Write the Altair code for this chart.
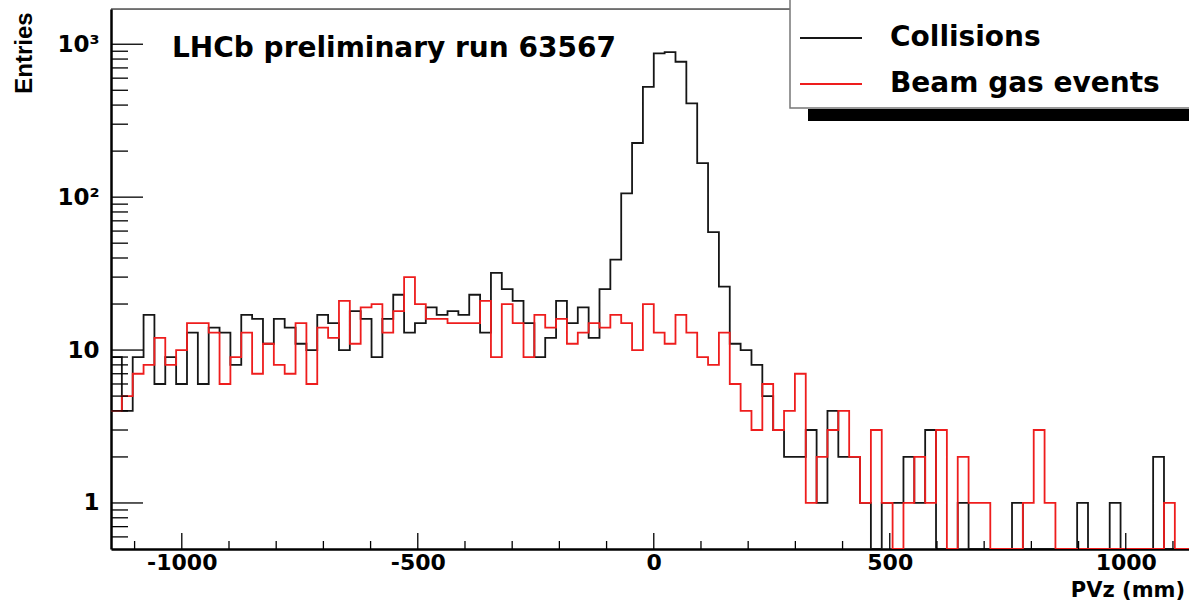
import altair as alt
import pandas as pd

# ---- histogram definition (100 bins of 23 mm from -1150 mm) ----
X_MIN = -1150
BIN_W = 23
X_VIEW_MAX = 1134
Y_MIN, Y_MAX = 0.5, 1700

collisions = [9, 4, 9, 17, 6, 9, 6, 13, 6, 14, 13, 8, 17, 16, 11, 16,
              14, 11, 10, 17, 15, 10, 18, 16, 9, 16, 23, 13, 15, 19, 17, 18,
              17, 23, 13, 32, 25, 21, 15, 9, 12, 21, 15, 19, 12, 25, 39, 106,
              226, 527, 872, 888, 768, 410, 167, 59, 26, 11, 10, 8, 5, 3, 2, 2,
              3, 1, 4, 2, 2, 1, 0, 1, 1, 2, 1, 3, 0, 0, 1, 0, 0, 0, 0, 1,
              0, 0, 0, 0, 0, 1, 0, 0, 1, 0, 0, 0, 2, 0, 0, 0]

beam_gas = [4, 5, 7, 8, 12, 8, 10, 15, 15, 13, 6, 9, 13, 7, 11, 8,
            7, 15, 6, 14, 12, 21, 11, 19, 20, 13, 18, 30, 20, 16, 16, 15,
            15, 15, 21, 9, 20, 15, 9, 17, 14, 16, 11, 13, 15, 14, 17, 15,
            10, 20, 13, 11, 17, 13, 9, 8, 13, 6, 4, 3, 6, 3, 4, 7,
            1, 2, 3, 4, 2, 1, 3, 1, 0, 1, 2, 1, 3, 0, 2, 1, 1, 0, 0, 0,
            1, 3, 1, 0, 0, 0, 0, 0, 0, 0, 0, 0, 0, 1, 0, 0]

series_names = ["Collisions", "Beam gas events"]
series_colors = ["#161616", "#ee1d1d"]

x_major = [-1000, -500, 0, 500, 1000]
x_minor = [-1100, -900, -800, -700, -600, -400, -300, -200, -100,
           100, 200, 300, 400, 600, 700, 800, 900, 1100]
y_major = [1, 10, 100, 1000]
y_minor = [0.6, 0.7, 0.8, 0.9, 2, 3, 4, 5, 6, 7, 8, 9,
           20, 30, 40, 50, 60, 70, 80, 90, 200, 300, 400, 500, 600, 700, 800, 900]

title_text = "LHCb preliminary run 63567"
x_title = "PVz (mm)"
y_title = "Entries"


def steps(counts, name):
    rows = []
    n = len(counts)
    for k in range(n + 1):
        c = counts[min(k, n - 1)]
        rows.append({"edge": X_MIN + BIN_W * k, "count": c,
                     "plot": max(c, Y_MIN), "series": name})
    return pd.DataFrame(rows)


df_c = steps(collisions, series_names[0])
df_b = steps(beam_gas, series_names[1])

W, H = 1078, 540
FONT = "DejaVu Sans"

xs = alt.Scale(domain=[X_MIN, X_VIEW_MAX], nice=False, zero=False)
ys = alt.Scale(type="log", domain=[Y_MIN, Y_MAX], nice=False)

x_axis = alt.Axis(values=x_major, labelExpr="'' + datum.value", ticks=False, grid=False,
                  labelFont=FONT, labelFontSize=22, labelFontWeight="bold", labelColor="black",
                  labelPadding=3, labelFlush=False, labelOverlap=False,
                  domainColor="black", domainWidth=2.5, title=None)
y_axis = alt.Axis(values=y_major,
                  labelExpr="datum.value == 1000 ? '10³' : datum.value == 100 ? '10²' : datum.value == 10 ? '10' : '1'",
                  ticks=False, grid=False, labelFont=FONT, labelFontSize=23, labelFontWeight="bold",
                  labelColor="black", labelPadding=12, labelFlush=False, labelOverlap=False,
                  domainColor="black", domainWidth=2.5, title=None)

black = alt.Chart(df_c).mark_line(interpolate="step-after", clip=True,
                                  color=series_colors[0], strokeWidth=1.8).encode(
    x=alt.X("edge:Q", scale=xs, axis=x_axis),
    y=alt.Y("plot:Q", scale=ys, axis=y_axis),
)
red = alt.Chart(df_b).mark_line(interpolate="step-after", clip=True,
                                color=series_colors[1], strokeWidth=1.8).encode(
    x=alt.X("edge:Q", scale=xs),
    y=alt.Y("plot:Q", scale=ys),
)

yt_major = alt.Chart(pd.DataFrame({"v": y_major})).mark_rule(color="black", strokeWidth=1.3).encode(
    y=alt.Y("v:Q", scale=ys), x=alt.value(0), x2=alt.value(32))
yt_minor = alt.Chart(pd.DataFrame({"v": y_minor})).mark_rule(color="black", strokeWidth=1.3).encode(
    y=alt.Y("v:Q", scale=ys), x=alt.value(0), x2=alt.value(17))
xt_major = alt.Chart(pd.DataFrame({"u": x_major})).mark_rule(color="black", strokeWidth=1.3).encode(
    x=alt.X("u:Q", scale=xs), y=alt.value(H), y2=alt.value(H - 16))
xt_minor = alt.Chart(pd.DataFrame({"u": x_minor})).mark_rule(color="black", strokeWidth=1.3).encode(
    x=alt.X("u:Q", scale=xs), y=alt.value(H), y2=alt.value(H - 8))

one = pd.DataFrame({"a": [0]})
top_frame = alt.Chart(one).mark_rule(color="black", strokeWidth=1.2).encode(
    x=alt.value(0), x2=alt.value(W), y=alt.value(0))

title = alt.Chart(one).mark_text(text=title_text, font=FONT, fontSize=28, fontWeight="bold",
                                 align="left", baseline="middle", color="black").encode(
    x=alt.value(61), y=alt.value(40))
xlab = alt.Chart(one).mark_text(text=x_title, font=FONT, fontSize=21, fontWeight="bold",
                                align="right", baseline="middle", color="black").encode(
    x=alt.value(W - 4), y=alt.value(582))
ylab = alt.Chart(one).mark_text(text=y_title, font="Liberation Sans", fontSize=24, fontWeight="bold",
                                align="center", baseline="middle", angle=270, color="black").encode(
    x=alt.value(-86), y=alt.value(44))

shadow = alt.Chart(one).mark_rect(color="black").encode(
    x=alt.value(697), x2=alt.value(W + 20), y=alt.value(100), y2=alt.value(112))
box = alt.Chart(one).mark_rect(fill="white", stroke="#777777", strokeWidth=1.5).encode(
    x=alt.value(679), x2=alt.value(W + 20), y=alt.value(-12), y2=alt.value(99))
leg_lines = alt.Chart(pd.DataFrame({"s": series_names, "yy": [29, 75]})).mark_rule(strokeWidth=1.8).encode(
    x=alt.value(689), x2=alt.value(751), y=alt.Y("yy:Q", scale=None),
    color=alt.Color("s:N", scale=alt.Scale(domain=series_names, range=series_colors), legend=None))
leg_text = alt.Chart(pd.DataFrame({"s": series_names, "yy": [29, 75]})).mark_text(
    font=FONT, fontSize=28, fontWeight="bold", align="left", baseline="middle", color="black").encode(
    x=alt.value(779), y=alt.Y("yy:Q", scale=None), text="s:N")

chart = alt.layer(
    black, red, yt_major, yt_minor, xt_major, xt_minor, top_frame,
    title, xlab, ylab, shadow, box, leg_lines, leg_text
).resolve_scale(color="independent").properties(
    width=W, height=H,
    padding={"left": 111, "top": 9, "right": 0, "bottom": 55},
    autosize=alt.AutoSizeParams(type="none"),
).configure_view(stroke=None).configure(background="white")

chart.save("out.html", embed_options={"renderer": "svg", "actions": False})
